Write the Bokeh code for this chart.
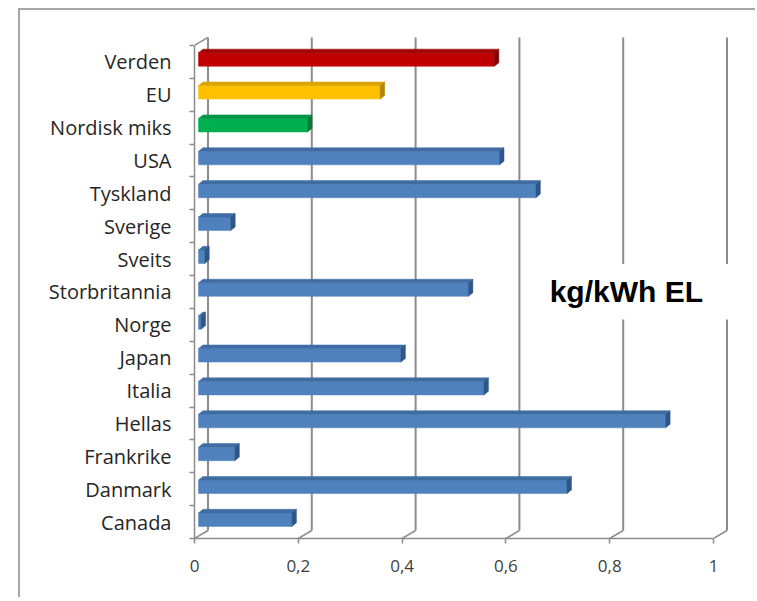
from bokeh.plotting import figure
from bokeh.models import (Range1d, FixedTicker, CustomJSTickFormatter, Label,
                          BoxAnnotation, ColumnDataSource)
from bokeh.embed import file_html
from bokeh.resources import INLINE

# ---------------- data (bottom to top) ----------------
categories = ["Canada", "Danmark", "Frankrike", "Hellas", "Italia", "Japan",
              "Norge", "Storbritannia", "Sveits", "Sverige", "Tyskland",
              "USA", "Nordisk miks", "EU", "Verden"]
values = [0.18, 0.71, 0.07, 0.90, 0.55, 0.39,
          0.005, 0.52, 0.012, 0.062, 0.65,
          0.58, 0.21, 0.35, 0.57]
x_ticks = [0, 0.2, 0.4, 0.6, 0.8, 1]
unit_text = "kg/kWh EL"

# ---------------- styling / geometry ----------------
W, H = 737, 589
PX_X = 519.0          # pixels per 1.0 on x
PX_Y = 32.87          # pixels per category
FRAME_L, FRAME_B, FRAME_T = 174, 61, 18
frame_w = W - FRAME_L
frame_h = H - FRAME_B - FRAME_T

dx = 13.5 / PX_X      # back-wall depth offset
dy = 8.0 / PX_Y
ox = 4.0 / PX_X       # bar front-face depth offset
oy = 2.4 / PX_Y
bx = 4.5 / PX_X       # bar depth
by = 3.6 / PX_Y
bh = 13.5 / PX_Y      # bar thickness

front_col, top_col, side_col = [], [], []
for c in categories:
    if c == "Verden":
        front_col.append("#C00000"); top_col.append("#9E0000"); side_col.append("#7F0000")
    elif c == "EU":
        front_col.append("#FFC000"); top_col.append("#D9A300"); side_col.append("#B38600")
    elif c == "Nordisk miks":
        front_col.append("#00B050"); top_col.append("#009444"); side_col.append("#007A38")
    else:
        front_col.append("#4F81BD"); top_col.append("#3F6CA3"); side_col.append("#2F5689")

p = figure(width=W, height=H, output_backend="svg", toolbar_location=None,
           x_range=Range1d(0, frame_w / PX_X),
           y_range=Range1d(-0.5, -0.5 + frame_h / PX_Y),
           min_border_left=FRAME_L, min_border_right=0,
           min_border_top=FRAME_T, min_border_bottom=FRAME_B)
p.outline_line_color = None
p.grid.visible = False
p.background_fill_color = "white"
p.border_fill_color = "white"
p.margin = (8, 0, 0, 18)
p.styles = {"border-top": "2px solid #A6A6A6", "border-left": "2px solid #A6A6A6"}

grid_col = "#8C8C8C"

# back-wall gridlines
n = len(categories)
p.segment(x0=[t + dx for t in x_ticks], y0=[-0.5 + dy] * len(x_ticks),
          x1=[t + dx for t in x_ticks], y1=[n - 0.5 + dy] * len(x_ticks),
          line_color=grid_col, line_width=2)
# floor diagonals
p.segment(x0=x_ticks, y0=[-0.5] * len(x_ticks),
          x1=[t + dx for t in x_ticks], y1=[-0.5 + dy] * len(x_ticks),
          line_color=grid_col, line_width=1.5)
# top-left wall diagonal
p.segment(x0=[0], y0=[n - 0.5], x1=[dx], y1=[n - 0.5 + dy],
          line_color=grid_col, line_width=1.5)

# bars
ys = list(range(n))
front = ColumnDataSource(dict(
    left=[ox] * n, right=[v + ox for v in values],
    bottom=[y - bh / 2 + oy for y in ys], top=[y + bh / 2 + oy for y in ys],
    color=front_col))
p.quad(left="left", right="right", bottom="bottom", top="top", source=front,
       fill_color="color", line_color="color", line_width=0.5)

top_xs, top_ys, side_xs, side_ys = [], [], [], []
for y, v in zip(ys, values):
    x0, x1 = ox, v + ox
    yb, yt = y - bh / 2 + oy, y + bh / 2 + oy
    top_xs.append([x0, x1, x1 + bx, x0 + bx])
    top_ys.append([yt, yt, yt + by, yt + by])
    side_xs.append([x1, x1 + bx, x1 + bx, x1])
    side_ys.append([yb, yb + by, yt + by, yt])
p.patches(xs=top_xs, ys=top_ys, fill_color=top_col, line_color=top_col, line_width=0.5)
p.patches(xs=side_xs, ys=side_ys, fill_color=side_col, line_color=side_col, line_width=0.5)

# x axis
xa = p.xaxis[0]
xa.ticker = FixedTicker(ticks=x_ticks)
xa.bounds = (0, 1)
xa.formatter = CustomJSTickFormatter(
    code="return (Math.round(tick*10)/10).toString().replace('.', ',');")
xa.axis_line_color = grid_col
xa.axis_line_width = 1.5
xa.major_tick_line_color = grid_col
xa.major_tick_line_width = 1.5
xa.major_tick_out = 5
xa.major_tick_in = 0
xa.minor_tick_line_color = None
xa.major_label_standoff = 16
xa.major_label_text_font = "Open Sans"
xa.major_label_text_font_size = "17px"
xa.major_label_text_color = "#404040"

# y axis
ya = p.yaxis[0]
ya.ticker = FixedTicker(ticks=ys, minor_ticks=[i - 0.5 for i in range(n + 1)])
ya.bounds = (-0.5, n - 0.5)
ya.major_label_overrides = {i: c for i, c in enumerate(categories)}
ya.axis_line_color = grid_col
ya.axis_line_width = 1.5
ya.major_tick_line_color = None
ya.major_tick_out = 0
ya.major_tick_in = 0
ya.minor_tick_line_color = grid_col
ya.minor_tick_line_width = 1.5
ya.minor_tick_out = 5
ya.minor_tick_in = 0
ya.major_label_standoff = 18
ya.major_label_text_font = "Open Sans"
ya.major_label_text_font_size = "20px"
ya.major_label_text_color = "#262626"

# unit label with white box
p.add_layout(BoxAnnotation(left=0.647, right=1.062, bottom=6.163, top=7.85,
                           fill_color="white", fill_alpha=1.0, line_color=None))
p.add_layout(Label(x=0.832, y=7.0, text=unit_text, text_font="Liberation Sans",
                   text_font_style="bold", text_font_size="30px",
                   text_color="black", text_align="center",
                   text_baseline="middle"))

open("out.html", "w").write(file_html(p, INLINE))
